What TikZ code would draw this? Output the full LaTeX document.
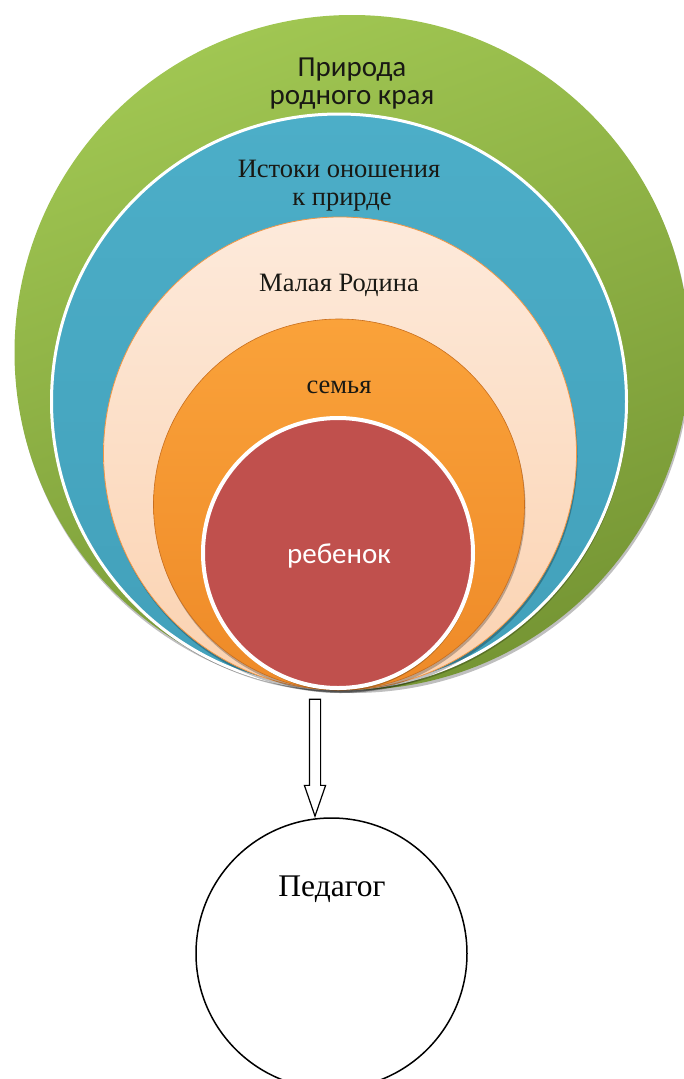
\documentclass[tikz,border=0pt]{standalone}
\usepackage{fontspec}
\setmainfont{Liberation Serif}
\newfontfamily\calib{Carlito}
\usetikzlibrary{shapes.arrows,shadows}
\definecolor{gA}{RGB}{160,198,82}
\definecolor{gB}{RGB}{118,150,52}
\definecolor{bA}{RGB}{76,174,200}
\definecolor{bB}{RGB}{66,160,186}
\definecolor{pA}{RGB}{253,234,219}
\definecolor{pB}{RGB}{251,210,176}
\definecolor{pE}{RGB}{240,150,70}
\definecolor{oA}{RGB}{250,162,58}
\definecolor{oB}{RGB}{238,138,40}
\definecolor{oE}{RGB}{200,110,30}
\definecolor{rA}{RGB}{192,80,77}
\definecolor{txt}{RGB}{25,25,20}
\begin{document}
\begin{tikzpicture}[x=1pt,y=-1pt,
  ring/.style={circle, inner sep=0pt, outer sep=0pt},
  shad/.style={drop shadow={shadow xshift=1pt, shadow yshift=-3pt, opacity=0.25, fill=black}},
  sanslbl/.style={anchor=base, inner sep=0pt, text=txt, font=\calib\fontsize{29}{28}\selectfont},
  seriflbl/.style={anchor=base, inner sep=0pt, text=txt, font=\fontsize{26.5}{28}\selectfont}]
\useasboundingbox (0,0) rectangle (683,1079);
% nested circles
\node[ring, shad, minimum size=675, top color=gA, bottom color=gB, shading angle=20] (green) at (352,352.5) {};
\node[ring, shad, minimum size=575, top color=bA, bottom color=bB, draw=white, line width=3pt] (blue) at (339,401.5) {};
\node[ring, shad, minimum size=473, top color=pA, bottom color=pB, draw=pE, line width=0.8pt] (peach) at (340,453.5) {};
\node[ring, shad, minimum size=371, top color=oA, bottom color=oB, draw=oE, line width=0.6pt] (orange) at (339,504.5) {};
\node[ring, shad, minimum size=270, fill=rA, draw=white, line width=4pt] (child) at (338,553) {};
% labels
\node[sanslbl] (t1a) at (352,76) {Природа};
\node[sanslbl] (t1b) at (352,104) {родного края};
\node[seriflbl] (t2a) at (339,177) {Истоки оношения};
\node[seriflbl] (t2b) at (342,205) {к прирде};
\node[seriflbl] (t3) at (339,291) {Малая Родина};
\node[seriflbl] (t4) at (339,393) {семья};
\node[sanslbl, text=white] (t5) at (339,563) {ребенок};
% teacher
\node[ring, draw=black, line width=1.5pt, minimum size=271] (ped) at (331.5,953.5) {};
\node[anchor=base, inner sep=0pt, font=\fontsize{31.5}{34}\selectfont] (tped) at (332,896) {Педагог};
% arrow
\node[single arrow, draw=black, fill=white, line width=1.2pt, minimum height=117, minimum width=20,
      single arrow head extend=5pt, single arrow tip angle=38, inner sep=5pt,
      shape border rotate=270, anchor=tip] (arr) at (315,818) {};
\end{tikzpicture}
\end{document}
